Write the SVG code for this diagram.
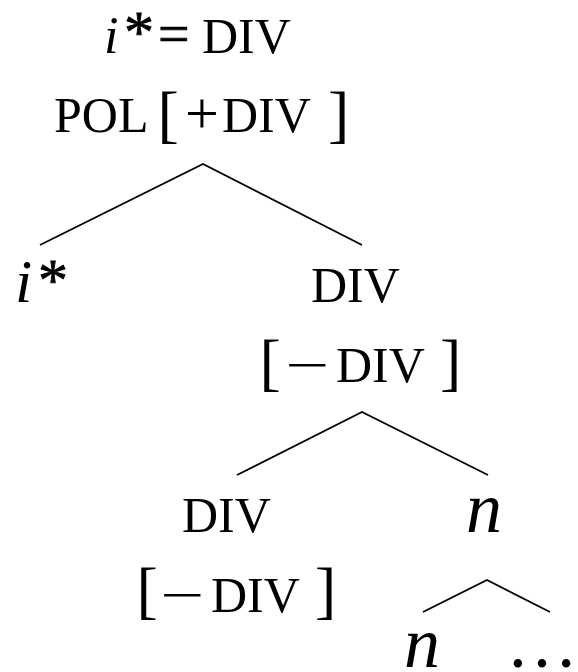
<svg xmlns="http://www.w3.org/2000/svg" width="578" height="672" viewBox="0 0 578 672">
<style>
text{font-family:"Liberation Serif","Times New Roman",serif;font-size:50px;fill:#000}
.it{font-style:italic}
.br{font-size:64px}
.ast{font-size:60px;stroke:#000;stroke-width:0.8}
.mi{font-style:italic;font-size:72px}
.edge{stroke:#000;stroke-width:1.8;fill:none}
</style>
<rect width="578" height="672" fill="#fff"/>
<g id="connectors">
<path class="edge" d="M40,245 L203,164 L362,245"/>
<path class="edge" d="M237,475 L362,412 L488,475"/>
<path class="edge" d="M423,612 L487,580 L550,612"/>
</g>
<g id="root">
<text class="it" x="104" y="53" style="font-size:52px">i</text>
<text class="ast" x="124" y="52">*</text>
<text x="158" y="53" style="font-size:56px;stroke:#000;stroke-width:0.6">=</text>
<text x="202" y="53">DIV</text>
<text x="54" y="132">POL</text>
<text class="br" x="157.5" y="135">[</text>
<text x="185" y="133" style="font-size:60px">+</text>
<text x="222" y="132">DIV</text>
<text class="br" x="328" y="135">]</text>
</g>
<g id="istar">
<text class="it" x="15" y="302" style="font-size:62px">i</text>
<text class="ast" x="38" y="300">*</text>
</g>
<g id="div1">
<text x="311" y="302">DIV</text>
<text class="br" x="259.5" y="383">[</text>
<text x="285" y="382" textLength="44" lengthAdjust="spacingAndGlyphs">−</text>
<text x="336" y="382">DIV</text>
<text class="br" x="440" y="383">]</text>
</g>
<g id="div2">
<text x="182" y="532">DIV</text>
<text class="br" x="136.5" y="611">[</text>
<text x="160" y="612" textLength="44" lengthAdjust="spacingAndGlyphs">−</text>
<text x="211" y="612">DIV</text>
<text class="br" x="315" y="611">]</text>
</g>
<g id="n1">
<text class="mi" x="466" y="532">n</text>
</g>
<g id="n2">
<text class="mi" x="404" y="667">n</text>
</g>
<g id="dots">
<text class="br" x="506" y="667" style="font-size:72px">…</text>
</g>
</svg>
